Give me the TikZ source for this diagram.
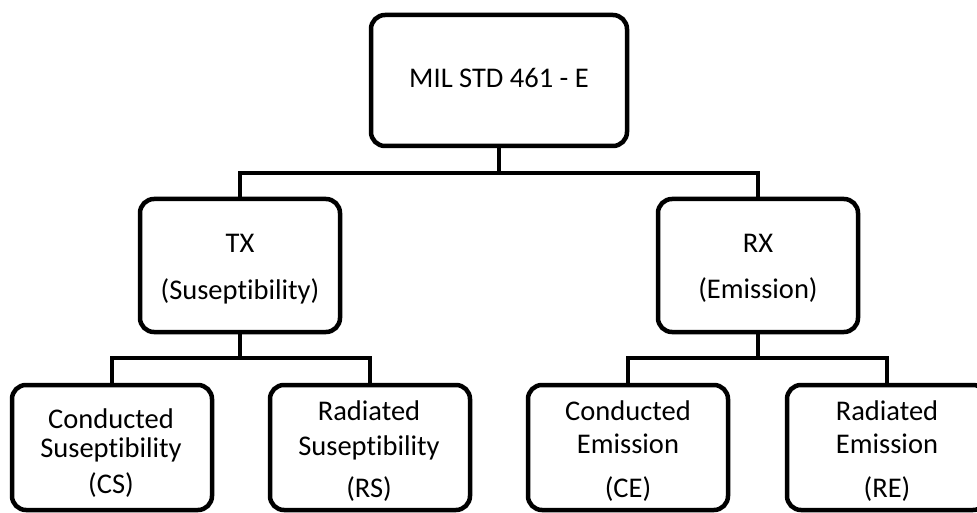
\documentclass[tikz,border=0pt]{standalone}
\usepackage{fontspec}
\setmainfont[Ligatures=NoCommon,RawFeature={-liga;-clig}]{Carlito}
\begin{document}
\begin{tikzpicture}[x=1pt,y=-1pt,
  box/.style={draw=black, line width=4.5pt, rounded corners=14pt, fill=white, inner sep=0pt},
  conn/.style={draw=black, line width=4.5pt},
  txt/.style={anchor=base, inner sep=0pt, font=\fontsize{28.5}{34}\selectfont}]
\useasboundingbox (0,0) rectangle (977,513);
\clip (0,0) rectangle (977,513);
% boxes
\node[box, minimum width=256pt, minimum height=131pt] (top) at (499,80.5) {};
\node[box, minimum width=200pt, minimum height=133pt] (tx) at (240,265.5) {};
\node[box, minimum width=200pt, minimum height=133pt] (rx) at (758,265.5) {};
\node[box, minimum width=200pt, minimum height=125pt] (cs) at (112,447.5) {};
\node[box, minimum width=200pt, minimum height=125pt] (rs) at (370,447.5) {};
\node[box, minimum width=200pt, minimum height=125pt] (ce) at (628,447.5) {};
\node[box, minimum width=200pt, minimum height=125pt] (re) at (887,447.5) {};
% junctions
\coordinate (j1) at (499,173);
\coordinate (j2) at (240,358);
\coordinate (j3) at (758,358);
% connectors
\draw[conn] (top.south) -- (j1);
\draw[conn] (tx.north) |- (j1) -| (rx.north);
\draw[conn] (tx.south) -- (j2);
\draw[conn] (cs.north) |- (j2) -| (rs.north);
\draw[conn] (rx.south) -- (j3);
\draw[conn] (ce.north) |- (j3) -| (re.north);
% texts
\node[txt] (ttop) at (499,88) {MIL STD 461 - E};
\node[txt] (ttx1) at (240,252) {TX};
\node[txt] (ttx2) at (240,299) {(Suseptibility)};
\node[txt] (trx1) at (758,252) {RX};
\node[txt] (trx2) at (758,298) {(Emission)};
\node[txt] (tcs1) at (111,428) {Conducted};
\node[txt] (tcs2) at (111,457) {Suseptibility};
\node[txt] (tcs3) at (111,493) {(CS)};
\node[txt] (trs1) at (369,420) {Radiated};
\node[txt] (trs2) at (369,455) {Suseptibility};
\node[txt] (trs3) at (369,497) {(RS)};
\node[txt] (tce1) at (628,420) {Conducted};
\node[txt] (tce2) at (628,453) {Emission};
\node[txt] (tce3) at (628,497) {(CE)};
\node[txt] (tre1) at (887,420) {Radiated};
\node[txt] (tre2) at (887,453) {Emission};
\node[txt] (tre3) at (887,497) {(RE)};
\end{tikzpicture}
\end{document}
